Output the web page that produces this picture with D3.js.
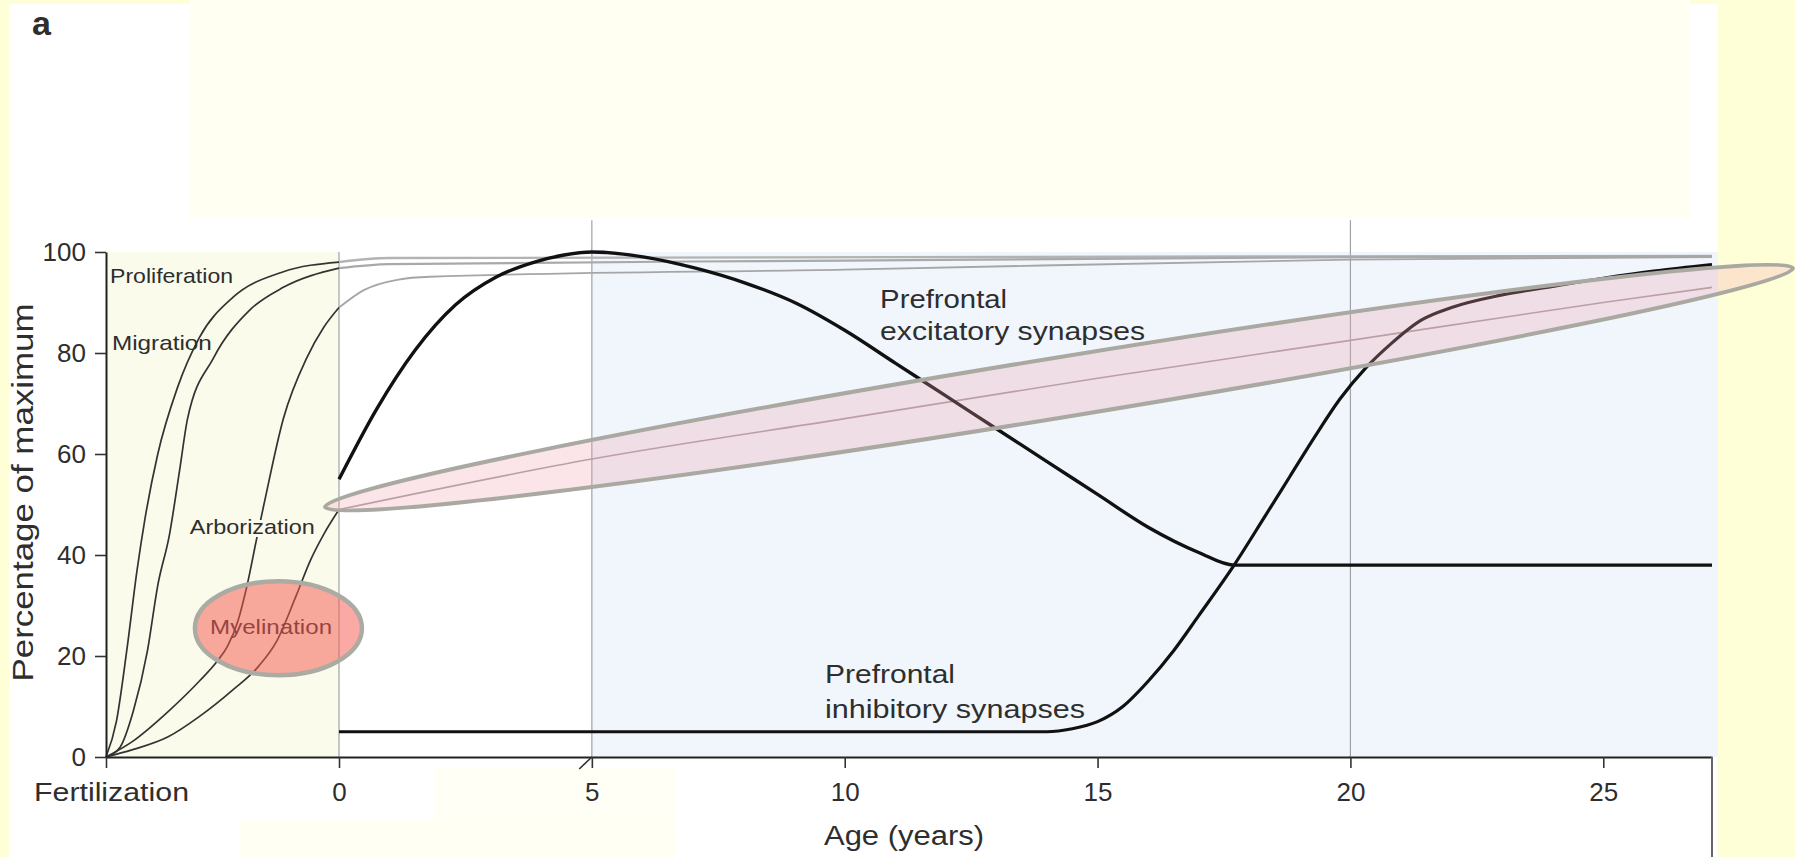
<!DOCTYPE html>
<html><head><meta charset="utf-8">
<script src="https://cdn.jsdelivr.net/npm/d3@7"></script>
<style>
html,body{margin:0;padding:0;background:#FFFFD7;}
svg{display:block;}
text{font-family:"Liberation Sans", Arial, Helvetica, sans-serif; fill:#2e2e2e;}
</style></head><body>
<svg id="chart" width="1795" height="857"></svg>
<script>
// ---------------- data ----------------
const xTickValues = [-0.75, 0, 5, 10, 15, 20, 25];
const xTickLabels = ["Fertilization", "0", "5", "10", "15", "20", "25"];
const yTickValues = [0, 20, 40, 60, 80, 100];

// prenatal series: [months after fertilization, % of maximum]
const proliferationPrenatal = [[0,0],[0.4,7],[0.8,21],[1.2,37],[1.5,47],[2,60],[2.75,73],[3.6,83],[4.9,91],[6.8,96],[9,98]];
const migrationPrenatal     = [[0,0],[0.55,2],[1.05,9],[1.6,21],[2.0,34],[2.45,44],[2.85,57],[3.15,67],[4.15,79],[5.55,88.5],[6.85,93],[9,96.8]];
const arborizationPrenatal  = [[0,0],[1,3],[2.4,9],[3.6,15],[4.3,19],[4.7,22],[5.1,27],[5.45,34],[5.85,44],[6.1,50],[6.85,67],[7.75,79],[8.4,85],[9,89]];
const myelinationPrenatal   = [[0,0],[1,1.4],[2.4,4],[3.6,8],[4.9,13.3],[5.9,18],[6.6,23],[7.35,32],[7.9,39],[8.4,44],[9,49]];

// postnatal series: [age in years, % of maximum]
const proliferationPostnatal = [[0,98],[1,98.8],[27.15,99.2]];
const migrationPostnatal     = [[0,96.8],[1,97.6],[10,98.3],[20,99],[27.15,99.2]];
const arborizationPostnatal  = [[0,89],[0.5,92.5],[1.15,94.5],[1.8,95.1],[10,96.5],[20,98.5],[27.15,99]];
const myelinationPostnatal   = [[0,49],[5,59],[10,67],[15,75],[20,82.5],[25,90],[27.15,93]];

const excitatorySynapses = [[0,55],[0.75,69],[1.5,80.5],[2.3,89.5],[3.1,95],[3.9,98.1],[4.45,99.4],[5,100],[6.1,98.9],[7.05,96.8],[8.05,93.8],[9.05,89.8],[10,84.5],[11,78],[12,71.5],[13,65],[14,58.5],[15,52],[16,45.5],[17,40.5],[17.7,38],[27.15,38]];
const inhibitorySynapses = [[0,5],[14,5],[14.5,5.6],[15,7],[15.5,10],[16,15],[16.5,21],[17,28],[17.7,38],[18.3,47.5],[18.8,55.5],[19.3,63.5],[19.8,71],[20.3,77],[20.8,81.8],[21.4,86.5],[22,89],[23,91.5],[24,93.2],[25,94.8],[26,96.2],[27.15,97.5]];

// text labels: [text, age, value, width]
const processLabels = [["Proliferation",-0.737,93.9,123],["Migration",-0.731,80.6,100],["Arborization",-0.48,44.2,125],["Myelination",-0.415,24.4,122]];
const synapseLabels = [["Prefrontal",10.7,88.9,127],["excitatory synapses",10.7,82.6,265],["Prefrontal",9.61,14.65,130],["inhibitory synapses",9.61,7.72,260]];

// annotation shapes (data coordinates)
const bigEllipseEnds = [[-0.045,49.5],[28.75,96.8]];
const myelinEllipseCenter = [-0.195,25.5];

// ---------------- drawing ----------------
const W = 1795, H = 857;
const svg = d3.select("#chart");
const monthToAge = m => m/12 - 0.75;

const xScale = d3.scaleLinear().domain([-0.75, 0, 27.15]).range([106, 339, 1712]);
const yScale = d3.scaleLinear().domain([0, 100]).range([757, 252]);

// page / figure backgrounds
svg.append("rect").attr("x",0).attr("y",0).attr("width",W).attr("height",H).attr("fill","#FFFFD7");
svg.append("rect").attr("x",9).attr("y",4).attr("width",1709).attr("height",H-4).attr("fill","#FFFFFF");
svg.append("rect").attr("x",190).attr("y",0).attr("width",1500).attr("height",218).attr("fill","#FFFFF2");
svg.append("rect").attr("x",434).attr("y",768).attr("width",242).attr("height",H-768).attr("fill","#FFFFF5");
svg.append("rect").attr("x",240).attr("y",820).attr("width",436).attr("height",H-820).attr("fill","#FFFFF3");

// plot tints
svg.append("rect")
  .attr("x", xScale(-0.75)).attr("y", yScale(100))
  .attr("width", xScale(0)-xScale(-0.75)).attr("height", yScale(0)-yScale(100))
  .attr("fill", "#FBFBEC");
svg.append("rect")
  .attr("x", xScale(5)).attr("y", yScale(100))
  .attr("width", xScale(27.15)+6-xScale(5)).attr("height", yScale(0)-yScale(100))
  .attr("fill", "#F0F6FB");

// vertical grid lines
svg.append("line").attr("x1",xScale(0)).attr("x2",xScale(0)).attr("y1",yScale(100)).attr("y2",yScale(0))
  .attr("stroke","#9ea3a8").attr("stroke-width",1.2);
[5,20].forEach(a=>{
  svg.append("line").attr("x1",xScale(a)).attr("x2",xScale(a)).attr("y1",yScale(106.3)).attr("y2",yScale(0))
    .attr("stroke","#9ea3a8").attr("stroke-width",1.2);
});

const line = d3.line().x(d=>xScale(d[0])).y(d=>yScale(d[1])).curve(d3.curveMonotoneX);
const toAge = arr => arr.map(d=>[monthToAge(d[0]), d[1]]);

// postnatal continuation of prenatal processes (grey)
svg.append("path").attr("d", line(proliferationPostnatal)).attr("fill","none").attr("stroke","#b3b3b3").attr("stroke-width",2.4);
svg.append("path").attr("d", line(migrationPostnatal)).attr("fill","none").attr("stroke","#a9a9a9").attr("stroke-width",2.2);
svg.append("path").attr("d", line(arborizationPostnatal)).attr("fill","none").attr("stroke","#a6a6a6").attr("stroke-width",1.8);
svg.append("path").attr("d", line(myelinationPostnatal)).attr("fill","none").attr("stroke","#a8a0a2").attr("stroke-width",1.6);

// prenatal process curves
[proliferationPrenatal, migrationPrenatal, arborizationPrenatal, myelinationPrenatal].forEach(s=>{
  svg.append("path").attr("d", line(toAge(s))).attr("fill","none").attr("stroke","#333").attr("stroke-width",1.7);
});

// synapse curves
svg.append("path").attr("d", line(excitatorySynapses)).attr("fill","none").attr("stroke","#111").attr("stroke-width",3.4);
svg.append("path").attr("d", line(inhibitorySynapses)).attr("fill","none").attr("stroke","#111").attr("stroke-width",3.2);

// axes
const xAxis = d3.axisBottom(xScale).tickValues(xTickValues)
  .tickFormat((d,i)=>xTickLabels[i]).tickSize(11).tickSizeOuter(0).tickPadding(15);
const gx = svg.append("g").attr("transform",`translate(0,${yScale(0)})`).call(xAxis);
gx.select(".domain").attr("stroke","#222").attr("stroke-width",2);
gx.selectAll(".tick line").attr("stroke","#333").attr("stroke-width",1.6);
gx.selectAll(".tick text").attr("font-size",26).attr("fill","#2e2e2e")
  .style("font-family",'"Liberation Sans", Arial, sans-serif')
  .each(function(d){ if (d === -0.75) d3.select(this).attr("textLength",155).attr("lengthAdjust","spacingAndGlyphs").attr("dx",5); });

const yAxis = d3.axisLeft(yScale).tickValues(yTickValues).tickSize(11).tickSizeOuter(0).tickPadding(9);
const gy = svg.append("g").attr("transform",`translate(${xScale(-0.75)},0)`).call(yAxis);
gy.select(".domain").attr("stroke","#222").attr("stroke-width",2);
gy.selectAll(".tick line").attr("stroke","#333").attr("stroke-width",1.6);
gy.selectAll(".tick text").attr("font-size",26).attr("fill","#2e2e2e")
  .style("font-family",'"Liberation Sans", Arial, sans-serif');

// axis break mark and right frame
svg.append("line").attr("x1",xScale(4.75)).attr("y1",yScale(0)+12).attr("x2",xScale(5)).attr("y2",yScale(0))
  .attr("stroke","#333").attr("stroke-width",1.6);
svg.append("line").attr("x1",xScale(27.15)).attr("x2",xScale(27.15)).attr("y1",yScale(0)).attr("y2",H)
  .attr("stroke","#666").attr("stroke-width",2);

// axis titles
svg.append("text").attr("transform",`translate(33,${(yScale(0)+yScale(100))/2-12}) rotate(-90)`)
  .attr("text-anchor","middle").attr("font-size",30)
  .attr("textLength",378).attr("lengthAdjust","spacingAndGlyphs")
  .text("Percentage of maximum");
svg.append("text").attr("x",824).attr("y",845).attr("font-size",27)
  .attr("textLength",160).attr("lengthAdjust","spacingAndGlyphs")
  .text("Age (years)");

// panel letter
svg.append("text").attr("x",32).attr("y",35).attr("font-size",34).attr("font-weight","bold").attr("fill","#222").text("a");

// process labels
processLabels.forEach(([t,a,v,w])=>{
  svg.append("text").attr("x",xScale(a)).attr("y",yScale(v)).attr("font-size",21)
    .attr("textLength",w).attr("lengthAdjust","spacingAndGlyphs")
    .attr("stroke", t==="Arborization" ? "#FBFBEC" : "none").attr("stroke-width",6)
    .attr("paint-order","stroke")
    .text(t);
});
// synapse labels
synapseLabels.forEach(([t,a,v,w])=>{
  svg.append("text").attr("x",xScale(a)).attr("y",yScale(v)).attr("font-size",25)
    .attr("textLength",w).attr("lengthAdjust","spacingAndGlyphs")
    .text(t);
});

// annotation ellipses
const p1 = [xScale(bigEllipseEnds[0][0]), yScale(bigEllipseEnds[0][1])];
const p2 = [xScale(bigEllipseEnds[1][0]), yScale(bigEllipseEnds[1][1])];
const cx = (p1[0]+p2[0])/2, cy = (p1[1]+p2[1])/2;
const rx = Math.hypot(p2[0]-p1[0], p2[1]-p1[1])/2;
const ang = Math.atan2(p2[1]-p1[1], p2[0]-p1[0])*180/Math.PI;
svg.append("ellipse").attr("cx",0).attr("cy",0).attr("rx",rx).attr("ry",30)
  .attr("transform",`translate(${cx},${cy}) rotate(${ang})`)
  .attr("fill","rgba(240,160,172,0.27)").attr("stroke","#A9A9A1").attr("stroke-width",4);

svg.append("ellipse").attr("cx",xScale(myelinEllipseCenter[0])).attr("cy",yScale(myelinEllipseCenter[1]))
  .attr("rx",83.5).attr("ry",47)
  .attr("fill","rgba(245,90,80,0.52)").attr("stroke","#ABABA3").attr("stroke-width",4.5);
</script>
</body></html>
